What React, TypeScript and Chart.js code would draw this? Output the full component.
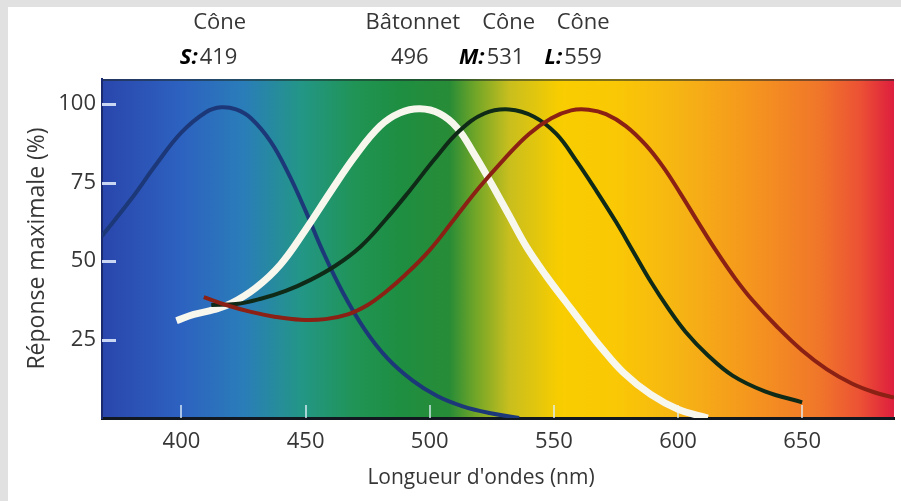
import React, { useEffect, useRef } from "react";
import { Chart, registerables } from "chart.js";

Chart.register(...registerables);

// ---- data ----
const sConeNm = [368, 380, 390, 400, 410, 416, 422, 428, 436, 443, 450, 457, 465, 474, 483, 493, 503, 513, 524, 536];
const sConeVal = [58, 70, 81, 91, 97.5, 99, 98.3, 95.5, 88, 78, 66, 53, 40, 28, 19, 12, 7, 3.8, 1.6, 0];

const rodNm = [398, 405, 413, 420, 430, 440, 450, 460, 470, 480, 488, 496, 504, 511, 518, 525, 532, 539, 547, 555, 562, 569, 578, 589, 600, 612];
const rodVal = [31, 33, 34.5, 36.5, 41.5, 49, 60, 72, 83.5, 93, 97.2, 98.5, 97, 92.5, 84, 74.5, 64.5, 54.5, 45.2, 36.8, 29.5, 22.5, 14.5, 7.5, 2.8, 0];

const mConeNm = [412, 422, 432, 442, 452, 462, 472, 482, 492, 502, 512, 522, 532, 542, 551, 559, 567, 575, 582, 589, 596, 603, 612, 622, 635, 650];
const mConeVal = [36, 36.3, 38, 40.5, 44, 48.5, 54.5, 63, 72.5, 82.5, 91.5, 97, 98.3, 96, 90.5, 82, 72.5, 62.5, 53, 43.5, 35, 27.5, 20, 13.5, 8.5, 5];

const lConeNm = [409, 418, 428, 438, 448, 458, 467, 475, 482, 490, 500, 510, 520, 530, 540, 549, 557, 564, 571, 579, 587, 594, 601, 608, 616, 623, 630, 640, 650, 660, 670, 679, 687];
const lConeVal = [38.5, 36, 33.8, 32.2, 31.3, 31.5, 33, 36, 40, 45.5, 53.5, 63.5, 73.5, 82.5, 90.5, 95.5, 98, 98.2, 96.8, 93, 87, 80, 71.5, 62.5, 52.5, 44.5, 37.5, 29, 21.5, 15.5, 11, 8.2, 6.5];

const xTickValues = [400, 450, 500, 550, 600, 650];
const yTickValues = [25, 50, 75, 100];

const peakNames = ["Cône", "Bâtonnet", "Cône", "Cône"];
const peakLetters = ["S:", "", "M:", "L:"];
const peakNm = [419, 496, 531, 559];

const xTitle = "Longueur d'ondes (nm)";
const yTitle = "Réponse maximale (%)";

// ---- styles ----
const FONT = "'Open Sans', 'Noto Sans', sans-serif";
const TEXT = "#363636";
const SPECTRUM: [number, string][] = [
  [368, "rgb(42,70,172)"],
  [400, "rgb(45,98,192)"],
  [425, "rgb(42,125,185)"],
  [448, "rgb(35,150,135)"],
  [470, "rgb(32,148,85)"],
  [488, "rgb(30,142,65)"],
  [508, "rgb(40,140,55)"],
  [518, "rgb(110,165,40)"],
  [532, "rgb(200,190,30)"],
  [552, "rgb(248,205,0)"],
  [575, "rgb(250,200,5)"],
  [601, "rgb(246,180,20)"],
  [629, "rgb(245,150,30)"],
  [657, "rgb(240,118,42)"],
  [673, "rgb(236,82,52)"],
  [687, "rgb(222,30,62)"],
];
const ROW1_DX = [-9, -7, 2, 7];
const ROW2_DX = [-20, -10, -15, -3];
const XTITLE_CENTER = 473;
const XTITLE_Y = 471;

const spectrumPlugin = {
  id: "spectrum",
  beforeDraw(chart: any) {
    const { ctx, chartArea } = chart;
    const { left, right, top, bottom } = chartArea;
    const xs = chart.scales.x;
    const g = ctx.createLinearGradient(left, 0, right, 0);
    SPECTRUM.forEach(([nm, c]) => {
      const p = (xs.getPixelForValue(nm) - left) / (right - left);
      g.addColorStop(Math.min(1, Math.max(0, p)), c);
    });
    ctx.save();
    ctx.fillStyle = g;
    ctx.fillRect(left, top, right - left, bottom - top);
    ctx.fillStyle = "rgba(30,40,40,0.55)";
    ctx.fillRect(left, top, right - left, 2);
    ctx.restore();
  },
  beforeDatasetsDraw(chart: any) {
    const { ctx, chartArea } = chart;
    const xs = chart.scales.x;
    const ys = chart.scales.y;
    ctx.save();
    ctx.strokeStyle = "rgba(230,240,255,0.85)";
    ctx.lineWidth = 3;
    yTickValues.forEach((v) => {
      const y = Math.round(ys.getPixelForValue(v)) + 0.5;
      ctx.beginPath();
      ctx.moveTo(chartArea.left, y);
      ctx.lineTo(chartArea.left + 14, y);
      ctx.stroke();
    });
    ctx.strokeStyle = "rgba(225,240,250,0.7)";
    ctx.lineWidth = 2;
    xTickValues.forEach((v) => {
      const x = Math.round(xs.getPixelForValue(v));
      ctx.beginPath();
      ctx.moveTo(x, chartArea.bottom);
      ctx.lineTo(x, chartArea.bottom - 13);
      ctx.stroke();
    });
    ctx.restore();
  },
  afterDraw(chart: any) {
    const { ctx } = chart;
    const xs = chart.scales.x;
    ctx.save();
    ctx.textBaseline = "middle";
    peakNm.forEach((nm, i) => {
      const px = xs.getPixelForValue(nm);
      ctx.font = `22px ${FONT}`;
      ctx.fillStyle = TEXT;
      ctx.textAlign = "center";
      ctx.fillText(peakNames[i], px + ROW1_DX[i], 15.5);

      const num = String(nm);
      ctx.font = `bold italic 22px ${FONT}`;
      const w1 = peakLetters[i] ? ctx.measureText(peakLetters[i]).width + 2 : 0;
      ctx.font = `22px ${FONT}`;
      const w2 = ctx.measureText(num).width;
      const start = px + ROW2_DX[i] - (w1 + w2) / 2;
      ctx.textAlign = "left";
      if (peakLetters[i]) {
        ctx.font = `bold italic 22px ${FONT}`;
        ctx.fillStyle = "#000";
        ctx.fillText(peakLetters[i], start, 51);
      }
      ctx.font = `22px ${FONT}`;
      ctx.fillStyle = TEXT;
      ctx.fillText(num, start + w1, 51);
    });
    ctx.font = `21px ${FONT}`;
    ctx.fillStyle = TEXT;
    ctx.textAlign = "center";
    ctx.fillText(xTitle, XTITLE_CENTER, XTITLE_Y);
    ctx.restore();
  },
};

const toPts = (xs: number[], ys: number[]) => xs.map((x, i) => ({ x, y: ys[i] }));

export default function App() {
  const ref = useRef<HTMLCanvasElement>(null);
  useEffect(() => {
    if (!ref.current) return;
    const line = { pointRadius: 0, tension: 0.4, fill: false };
    const chart = new Chart(ref.current, {
      type: "line",
      data: {
        datasets: [
          { label: "Cône L", data: toPts(lConeNm, lConeVal), borderColor: "#8a2114", borderWidth: 4, ...line },
          { label: "Cône M", data: toPts(mConeNm, mConeVal), borderColor: "#0f2a17", borderWidth: 4, ...line },
          { label: "Bâtonnet", data: toPts(rodNm, rodVal), borderColor: "#f7f7ee", borderWidth: 7, ...line },
          { label: "Cône S", data: toPts(sConeNm, sConeVal), borderColor: "#1c3878", borderWidth: 4, ...line },
        ],
      },
      options: {
        animation: false,
        responsive: false,
        events: [],
        layout: { padding: { left: 0, top: 72, right: 7, bottom: 0 } },
        plugins: { legend: { display: false }, tooltip: { enabled: false } },
        scales: {
          x: {
            type: "linear",
            min: 368,
            max: 687,
            afterBuildTicks: (s: any) => {
              s.ticks = xTickValues.map((v) => ({ value: v }));
            },
            afterFit: (s: any) => {
              s.height = 83;
            },
            grid: { display: false, drawTicks: false },
            border: { display: true, color: "#111820", width: 3 },
            ticks: { color: TEXT, font: { family: FONT, size: 22 }, padding: 11, maxRotation: 0, autoSkip: false },
            title: { display: false, text: xTitle },
          },
          y: {
            type: "linear",
            min: 0,
            max: 108,
            afterBuildTicks: (s: any) => {
              s.ticks = yTickValues.map((v) => ({ value: v }));
            },
            afterFit: (s: any) => {
              s.width = 94;
            },
            grid: { display: false, drawTicks: false },
            border: { display: true, color: "#1b2a6e", width: 2 },
            ticks: { color: TEXT, font: { family: FONT, size: 22 }, padding: 6 },
            title: { display: true, text: yTitle, color: TEXT, font: { family: FONT, size: 23 }, padding: { top: 16, bottom: 0 } },
          },
        },
      },
      plugins: [spectrumPlugin],
    });
    return () => chart.destroy();
  }, []);

  return (
    <div style={{ position: "fixed", inset: 0, background: "#e1e1e1" }}>
      <div style={{ position: "absolute", left: 8, top: 7, right: 0, bottom: 0, background: "#fff" }}>
        <canvas ref={ref} width={893} height={494} style={{ display: "block", width: 893, height: 494 }} />
      </div>
    </div>
  );
}
